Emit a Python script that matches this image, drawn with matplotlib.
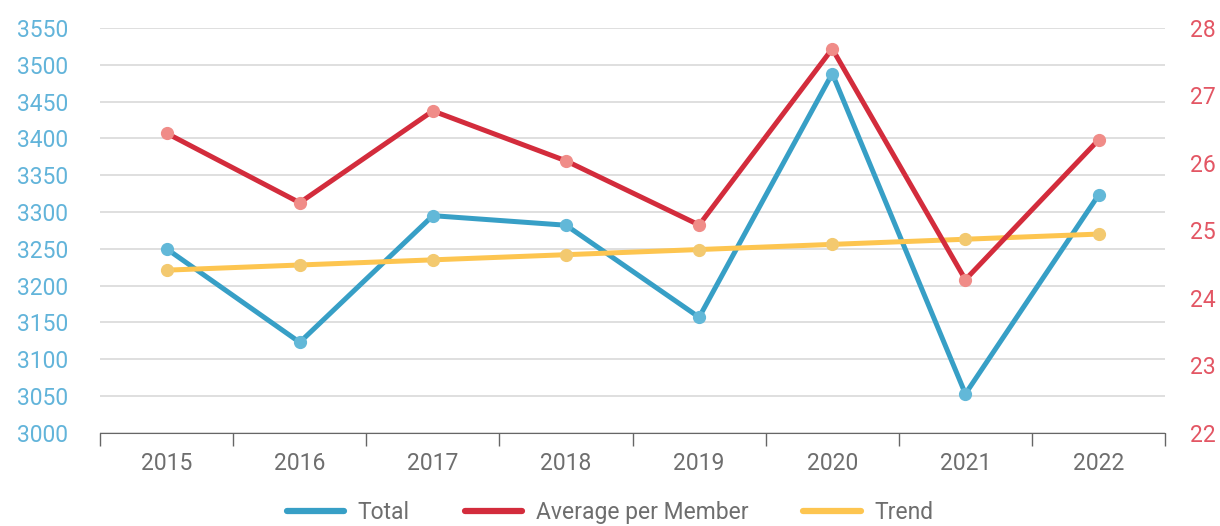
import matplotlib
matplotlib.use('Agg')
import matplotlib.pyplot as plt
from matplotlib.ticker import FixedLocator, NullFormatter
from matplotlib.lines import Line2D

# values
years = ['2015', '2016', '2017', '2018', '2019', '2020', '2021', '2022']
total = [3250, 3123, 3295, 3282, 3157, 3488, 3053, 3323]
avg_per_member = [26.44, 25.41, 26.77, 26.03, 25.08, 27.69, 24.27, 26.34]
trend = [3221, 3228, 3235, 3242, 3249, 3256, 3263, 3270]

left_ticks = list(range(3000, 3551, 50))
right_ticks = [22, 23, 24, 25, 26, 27, 28]

plt.rcParams['font.family'] = ['Roboto', 'DejaVu Sans']

teal = '#379fc6'
red = '#d32c3c'
yellow = '#fdc550'

fig = plt.figure(figsize=(12.2, 5.26), dpi=100)
ax = fig.add_axes([0.082, 0.177, 0.873, 0.77])
ax2 = ax.twinx()

x = list(range(len(years)))

ax.plot(x, total, color=teal, lw=3.6, marker='o', ms=8.5,
        mfc='#62b8d8', mec='#62b8d8', label='Total', zorder=3)
ax.plot(x, trend, color=yellow, lw=3.6, marker='o', ms=8.5,
        mfc='#f3c96f', mec='#f3c96f', label='Trend', zorder=4)
ax2.plot(x, avg_per_member, color=red, lw=3.6, marker='o', ms=8.5,
         mfc='#f08c88', mec='#f08c88', label='Average per Member', zorder=3)

ax.set_ylim(3000, 3550)
ax2.set_ylim(22, 28)
ax.set_xlim(-0.5, len(years) - 0.5)

ax.set_yticks(left_ticks)
ax2.set_yticks(right_ticks)
ax.tick_params(axis='y', length=0, pad=23, labelsize=16.5, labelcolor='#62b4da')
ax2.tick_params(axis='y', length=0, pad=18, labelsize=16.5, labelcolor='#e35664')

# category boundaries as ticks, labels in the middle
ax.xaxis.set_major_locator(FixedLocator([i - 0.5 for i in range(len(years) + 1)]))
ax.xaxis.set_major_formatter(NullFormatter())
ax.xaxis.set_minor_locator(FixedLocator(x))
ax.set_xticklabels(years, minor=True)
ax.tick_params(axis='x', which='major', length=9, width=1, color='#666666')
ax.tick_params(axis='x', which='minor', length=0, pad=14, labelsize=16.5, labelcolor='#6e6e6e')

ax.grid(axis='y', color='#d9d9d9', lw=1.2)
ax.set_axisbelow(True)
for a in (ax, ax2):
    for s in ['top', 'left', 'right', 'bottom']:
        a.spines[s].set_visible(False)
ax.spines['bottom'].set_visible(True)
ax.spines['bottom'].set_color('#666666')

labels = ['Total', 'Average per Member', 'Trend']
handles = [Line2D([], [], color=c, lw=4.5, solid_capstyle='round') for c in (teal, red, yellow)]
fig.legend(handles, labels, loc='lower center', bbox_to_anchor=(0.5, -0.036), ncol=3,
           frameon=False, fontsize=16.5, handlelength=2.5, handletextpad=0.6,
           columnspacing=2.4, labelcolor='#6e6e6e')

plt.savefig('out.png', dpi=100)
